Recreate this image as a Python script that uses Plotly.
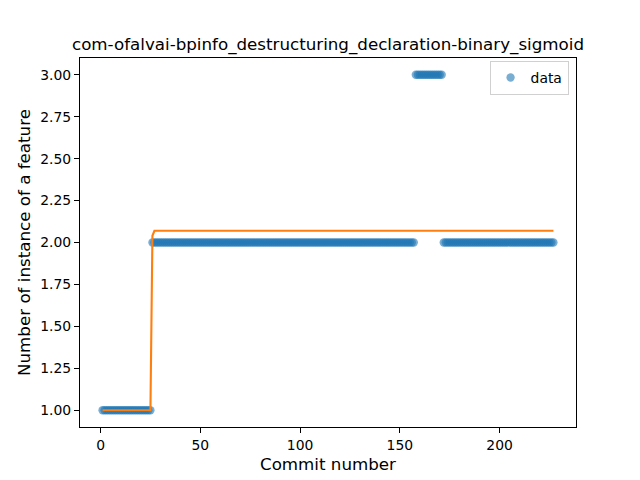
import plotly.graph_objects as go

################################
# Data
# runs of equal feature counts, in commit order
run_values = [1, 2, 3, 2]
run_lengths = [25, 132, 14, 56]

# binary sigmoid fit, sampled at its break points
fit_commits = [1, 25, 26, 27, 227]
fit_values = [1.0, 1.0, 2.04, 2.07, 2.07]

chart_title = "com-ofalvai-bpinfo_destructuring_declaration-binary_sigmoid"
y_ticks = [1.00, 1.25, 1.50, 1.75, 2.00, 2.25, 2.50, 2.75, 3.00]
x_ticks = [0, 50, 100, 150, 200]

################################
# Expand the runs into one point per commit
values = []
for v, n in zip(run_values, run_lengths):
    values += [v] * n
commits = list(range(1, len(values) + 1))

fig = go.Figure()

fig.add_trace(
    go.Scatter(
        x=commits,
        y=values,
        name="data",
        mode="markers",
        marker=dict(color="#1f77b4", size=8.3, opacity=0.6, line=dict(width=0)),
    )
)

fig.add_trace(
    go.Scatter(
        x=fit_commits,
        y=fit_values,
        name="fit",
        mode="lines",
        line=dict(color="#ff7f0e", width=2.1),
        showlegend=False,
    )
)

axis_style = dict(
    showline=True,
    linecolor="black",
    linewidth=1,
    mirror=True,
    ticks="outside",
    ticklen=5,
    tickwidth=1,
    tickcolor="black",
    showgrid=False,
    zeroline=False,
    automargin=False,
    tickfont=dict(size=13.9, color="black"),
)

fig.update_xaxes(
    range=[-10.3, 238.3],
    tickvals=x_ticks,
    title=dict(text="Commit number", font=dict(size=16.7, color="black"), standoff=6),
    **axis_style
)
fig.update_yaxes(
    range=[0.9, 3.1],
    tickvals=y_ticks,
    tickformat=".2f",
    title=dict(text="Number of instance of a feature", font=dict(size=16.7, color="black"), standoff=5),
    **axis_style
)

# the page body adds 8px round the figure, so the figure is 8px smaller
fig.update_layout(
    width=632,
    height=472,
    margin=dict(l=72, r=64, t=50, b=53),
    paper_bgcolor="white",
    plot_bgcolor="white",
    font=dict(family="DejaVu Sans", color="black"),
    title=dict(
        text=chart_title,
        x=0.5,
        xref="paper",
        xanchor="center",
        y=1 - 36 / 472,
        yref="container",
        yanchor="middle",
        font=dict(size=16.7, color="black"),
    ),
    legend=dict(
        x=0.985,
        y=0.992,
        xanchor="right",
        yanchor="top",
        bordercolor="#d0d0d0",
        borderwidth=1,
        bgcolor="rgba(255,255,255,0.8)",
        font=dict(size=13.9),
    ),
)

fig.write_html("out.html")
